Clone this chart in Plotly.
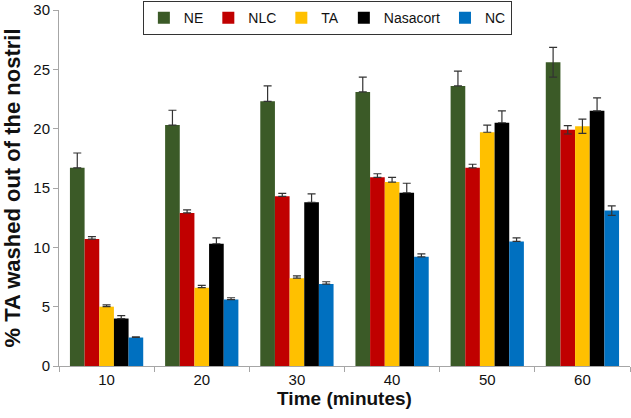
import plotly.graph_objects as go

categories = ["10", "20", "30", "40", "50", "60"]
series_names = ["NE", "NLC", "TA", "Nasacort", "NC"]
ne = [16.7, 20.3, 22.3, 23.1, 23.6, 25.6]
nlc = [10.7, 12.9, 14.3, 15.9, 16.7, 19.9]
ta = [5.0, 6.6, 7.4, 15.5, 19.7, 20.2]
nasacort = [4.0, 10.3, 13.8, 14.6, 20.5, 21.5]
nc = [2.4, 5.6, 6.9, 9.2, 10.5, 13.1]

ne_err = [1.25, 1.25, 1.3, 1.25, 1.25, 1.25]
nlc_err = [0.2, 0.25, 0.25, 0.3, 0.3, 0.35]
ta_err = [0.15, 0.2, 0.2, 0.4, 0.6, 0.6]
nasacort_err = [0.25, 0.5, 0.7, 0.8, 1.0, 1.1]
nc_err = [0.05, 0.15, 0.2, 0.25, 0.3, 0.4]

ne_err_minus = [0, 0, 0, 0, 0, 1.25]
nlc_err_minus = [0, 0, 0, 0, 0, 0.35]
ta_err_minus = [0, 0, 0, 0, 0, 0.6]
nasacort_err_minus = [0, 0, 0, 0, 0, 0]
nc_err_minus = [0, 0, 0, 0, 0, 0.4]

colors = ["#3B5A27", "#C00000", "#FFC000", "#000000", "#0070C0"]

values = [ne, nlc, ta, nasacort, nc]
errs = [ne_err, nlc_err, ta_err, nasacort_err, nc_err]
errs_minus = [ne_err_minus, nlc_err_minus, ta_err_minus, nasacort_err_minus, nc_err_minus]

fig = go.Figure()
for name, vals, e, em, c in zip(series_names, values, errs, errs_minus, colors):
    fig.add_trace(go.Bar(
        name=name, x=categories, y=vals,
        marker=dict(color=c, line=dict(width=0)),
        error_y=dict(type="data", array=e, arrayminus=em, symmetric=False,
                     color="#333333", thickness=1.2, width=4),
    ))

fig.update_layout(
    width=631, height=418,
    margin=dict(l=59, r=1, t=10, b=52, autoexpand=False),
    barmode="group", bargap=0.23, bargroupgap=0,
    plot_bgcolor="white", paper_bgcolor="white",
    font=dict(family="Arial, Liberation Sans, sans-serif", size=15, color="#111111"),
    legend=dict(orientation="h", x=0.47, xanchor="center", y=1.025, yanchor="top",
                bgcolor="white", bordercolor="#333333", borderwidth=1,
                font=dict(size=14), itemwidth=30),
    xaxis=dict(type="category", showline=True, linecolor="#A6A6A6", linewidth=1,
               automargin=False,
               ticks="outside", tickson="boundaries", ticklen=5, tickcolor="#A6A6A6",
               title=dict(text="<b>Time (minutes)</b>", font=dict(size=19), standoff=4)),
    yaxis=dict(range=[0, 30], dtick=5, showline=True, linecolor="#A6A6A6", linewidth=1,
               automargin=False, ticklabeloverflow="allow",
               ticks="outside", ticklen=5, tickcolor="#A6A6A6", showgrid=False, zeroline=False,
               title=dict(text="<b>% TA washed out of the nostril</b>", font=dict(size=22), standoff=6)),
)

fig.write_html("out.html", config={"displayModeBar": False},
               post_script="document.body.style.margin='0';document.body.style.padding='0';")
